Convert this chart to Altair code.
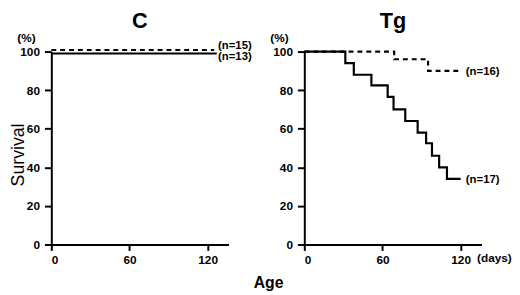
import altair as alt
import pandas as pd

# ---- data ----
c_solid_days = [0, 127]
c_solid_surv = [99, 99]
c_dash_days = [0, 125]
c_dash_surv = [100.8, 100.8]

tg_solid_days = [0, 31.5, 38, 51.5, 64, 68.5, 77.5, 87, 93.5, 98, 103.5, 109.5, 120]
tg_solid_surv = [100, 94, 88, 82.5, 76.5, 70, 64, 58, 52.5, 46, 40, 34, 34]
tg_dash_days = [0, 69, 95, 120]
tg_dash_surv = [100, 96, 90, 90]

c_labels = ["(n=15)", "(n=13)"]
c_label_days = [128, 128]
c_label_surv = [103, 97]
tg_labels = ["(n=16)", "(n=17)"]
tg_label_days = [124, 124]
tg_label_surv = [89.3, 33.3]

y_ticks = [0, 20, 40, 60, 80, 100]
x_ticks = [0, 60, 120]

FONT = "Liberation Sans"
W, H = 180, 196


def lines_df(solid_d, solid_s, dash_d, dash_s):
    return pd.DataFrame({
        "days": list(solid_d) + list(dash_d),
        "surv": list(solid_s) + list(dash_s),
        "kind": ["solid"] * len(solid_d) + ["dash"] * len(dash_d),
    })


def panel(title, lines, labels, show_days, show_survival):
    if show_days:
        extra = {"title": "(days)", "titleFont": FONT, "titleFontWeight": "bold",
                 "titleFontSize": 12, "titleColor": "black", "titleX": 175, "titleY": 13,
                 "titleAlign": "left", "titleBaseline": "middle"}
    else:
        extra = {"title": None}
    x_axis = alt.Axis(
        values=x_ticks,
        domainColor="black", domainWidth=2, tickColor="black", tickWidth=2, tickSize=6,
        labelFont=FONT, labelFontWeight="bold", labelFontSize=12, labelColor="black",
        labelPadding=4, grid=False, labelOverlap=False, **extra,
    )
    y_axis = alt.Axis(
        values=y_ticks, title="(%)", titleAngle=0, titleX=-35, titleY=-14,
        titleFont=FONT, titleFontWeight="bold", titleFontSize=12, titleColor="black",
        titleAlign="left", titleBaseline="middle",
        domainColor="black", domainWidth=2, tickColor="black", tickWidth=2, tickSize=7,
        labelFont=FONT, labelFontWeight="bold", labelFontSize=12, labelColor="black",
        labelPadding=5, grid=False, labelOverlap=False,
    )
    X = alt.X("days:Q", scale=alt.Scale(domain=[0, 136], nice=False, zero=False), axis=x_axis)
    Y = alt.Y("surv:Q", scale=alt.Scale(domain=[0, 100], nice=False), axis=y_axis)

    line = alt.Chart(lines).mark_line(
        interpolate="step-after", color="black", strokeWidth=2.2
    ).encode(
        x=X, y=Y, detail="kind:N",
        strokeDash=alt.StrokeDash("kind:N", scale=alt.Scale(domain=["solid", "dash"], range=[[1, 0], [5, 4]]),
                                  legend=None),
    )
    txt = alt.Chart(labels).mark_text(
        align="left", baseline="middle", font=FONT, fontSize=11.5, fontWeight="bold", color="black"
    ).encode(x=X, y=Y, text="label:N")
    layers = [line, txt]
    if show_survival:
        surv_txt = alt.Chart(pd.DataFrame({"t": ["Survival"]})).mark_text(
            angle=270, font=FONT, fontSize=18, color="black", baseline="middle", align="center"
        ).encode(x=alt.value(-33), y=alt.value(105), text="t:N")
        layers.append(surv_txt)
    return alt.layer(*layers).properties(
        width=W, height=H,
        title=alt.TitleParams(title, font=FONT, fontSize=22, fontWeight="bold",
                              color="black", anchor="middle", offset=-1),
    )


c_lab = pd.DataFrame({"label": c_labels, "days": c_label_days, "surv": c_label_surv})
tg_lab = pd.DataFrame({"label": tg_labels, "days": tg_label_days, "surv": tg_label_surv})

left = panel("C", lines_df(c_solid_days, c_solid_surv, c_dash_days, c_dash_surv), c_lab, False, True)
right = panel("Tg", lines_df(tg_solid_days, tg_solid_surv, tg_dash_days, tg_dash_surv), tg_lab, True, False)

chart = alt.hconcat(left, right, spacing=18).properties(
    padding={"left": 2, "top": 0, "right": 0, "bottom": 0},
    background="white",
    title=alt.TitleParams("Age", orient="bottom", font=FONT, fontSize=16, fontWeight="bold",
                          color="black", anchor="middle", offset=10, dx=8),
).configure_view(stroke=None, strokeWidth=0).configure_axis(
    grid=False, labelOverlap=False
)

chart.save("out.html", embed_options={"renderer": "svg", "actions": False})
